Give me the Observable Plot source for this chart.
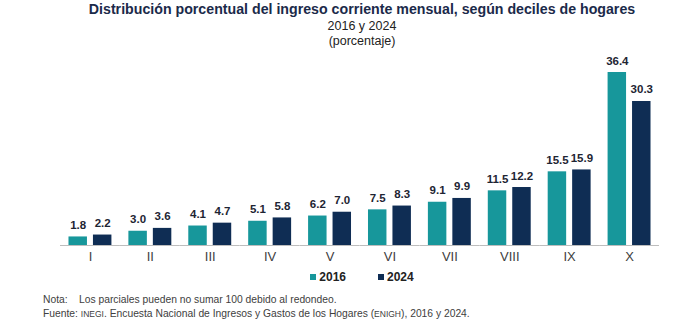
<!DOCTYPE html>
<html><head><meta charset="utf-8">
<script src="https://cdn.jsdelivr.net/npm/d3@7"></script>
<script src="https://cdn.jsdelivr.net/npm/@observablehq/plot@0.6"></script>
<style>
body{margin:0;background:#fff;font-family:"Liberation Sans",Arial,sans-serif;}
#wrap{position:relative;width:700px;height:329px;overflow:hidden;}
.t1{position:absolute;left:0;width:724px;top:0;text-align:center;font-weight:bold;font-size:14.2px;line-height:18px;color:#1b2a4a;}
.t2{position:absolute;left:0;width:724px;top:19px;text-align:center;font-size:12.5px;line-height:15px;color:#222;}
.t3{position:absolute;left:0;width:724px;top:34px;text-align:center;font-size:12.5px;line-height:15px;color:#222;}
#chart{position:absolute;left:0;top:48px;}
#legend{position:absolute;left:0;width:724px;top:270px;height:15px;text-align:center;font-size:12px;font-weight:bold;color:#222;line-height:15px;}
#legend span.sw{display:inline-block;width:6px;height:6px;margin-right:3px;vertical-align:1px;}
#legend span.it{margin:0 16px;}
.note{position:absolute;left:43px;font-size:10.3px;color:#404040;line-height:13px;white-space:nowrap;}
.note .lab{display:inline-block;width:36px;}
.sc{font-size:8.5px;}
</style></head>
<body><div id="wrap">
<div class="t1">Distribución porcentual del ingreso corriente mensual, según deciles de hogares</div>
<div class="t2">2016 y 2024</div>
<div class="t3">(porcentaje)</div>
<div id="chart"></div>
<div id="legend"></div>
<div class="note" style="top:293px"><span class="lab">Nota:</span>Los parciales pueden no sumar 100 debido al redondeo.</div>
<div class="note" style="top:307px">Fuente: <span class="sc">INEGI</span>. Encuesta Nacional de Ingresos y Gastos de los Hogares (<span class="sc">ENIGH</span>), 2016 y 2024.</div>
</div>
<script>
const deciles = ["I","II","III","IV","V","VI","VII","VIII","IX","X"];
const years = ["2016","2024"];
const v2016 = [1.8,3.0,4.1,5.1,6.2,7.5,9.1,11.5,15.5,36.4];
const v2024 = [2.2,3.6,4.7,5.8,7.0,8.3,9.9,12.2,15.9,30.3];
const colors = ["#17979b","#0f2d54"];

const data = [];
deciles.forEach((d,i)=>{
  data.push({decil:d, year:years[0], value:v2016[i]});
  data.push({decil:d, year:years[1], value:v2024[i]});
});

const chart = Plot.plot({
  width:700, height:222,
  marginLeft:60, marginRight:41, marginTop:24, marginBottom:25,
  style:{fontFamily:"'Liberation Sans', Arial, sans-serif", background:"#fff"},
  fx:{domain:deciles, padding:0, round:false, label:null, axis:"bottom", tickSize:0, tickPadding:6},
  x:{domain:years, axis:null, round:false, paddingInner:0.245, paddingOuter:0.347},
  y:{domain:[0,36.4], axis:null},
  color:{domain:years, range:colors},
  marks:[
    Plot.barY(data,{fx:"decil", x:"year", y:"value", fill:"year"}),
    Plot.text(data,{fx:"decil", x:"year", y:"value", text:d=>d.value.toFixed(1), dy:-8, lineAnchor:"bottom", fontWeight:"bold", fontSize:11.5, fill:"#1e2533"}),
    Plot.ruleY([0],{stroke:"#bdbdbd", strokeWidth:1})
  ]
});
const fxg = chart.querySelector('g[aria-label="fx-axis tick label"]');
if (fxg) { fxg.setAttribute("font-size","13"); fxg.setAttribute("fill","#404040"); }
document.getElementById("chart").appendChild(chart);

const leg = document.getElementById("legend");
years.forEach((y,i)=>{
  const it = document.createElement("span");
  it.className="it";
  it.innerHTML = `<span class="sw" style="background:${colors[i]}"></span>${y}`;
  leg.appendChild(it);
});
</script>
</body></html>
